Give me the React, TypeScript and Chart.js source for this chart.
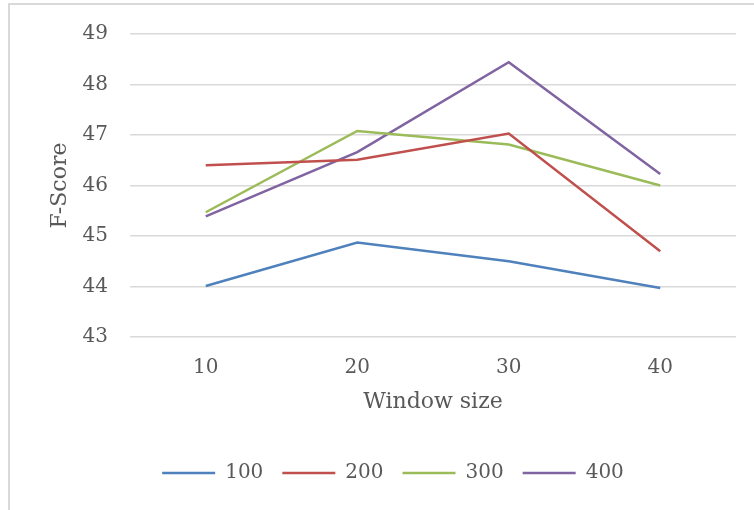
import { useEffect, useRef } from "react";
import { Chart, registerables } from "chart.js";

Chart.register(...registerables);

const categories = ["10", "20", "30", "40"];
const seriesNames = ["100", "200", "300", "400"];
const series100 = [44.01, 44.87, 44.5, 43.97];
const series200 = [46.4, 46.51, 47.03, 44.7];
const series300 = [45.47, 47.08, 46.81, 46.0];
const series400 = [45.39, 46.66, 48.44, 46.23];
const seriesColors = ["#4f81bd", "#c0504d", "#9bbb59", "#8064a2"];
const yMin = 43;
const yMax = 49;
const yStep = 1;
const xTitle = "Window size";
const yTitle = "F-Score";

const FONT = "'DejaVu Serif', serif";
const TEXT = "#595959";
const GRID = "#d9d9d9";

const legendShift = {
  id: "legendShift",
  afterLayout(chart: any) {
    const lg = chart.legend;
    if (lg) {
      lg.left += 25;
      lg.right += 25;
    }
  },
};

export default function App() {
  const ref = useRef<HTMLCanvasElement | null>(null);

  useEffect(() => {
    if (!ref.current) return;
    const all = [series100, series200, series300, series400];
    const chart = new Chart(ref.current, {
      type: "line",
      data: {
        labels: categories,
        datasets: all.map((d, i) => ({
          label: seriesNames[i],
          data: d,
          borderColor: seriesColors[i],
          backgroundColor: seriesColors[i],
          borderWidth: 2.5,
          pointRadius: 0,
          pointHoverRadius: 0,
          tension: 0,
          fill: false,
        })),
      },
      plugins: [legendShift],
      options: {
        responsive: false,
        animation: false,
        devicePixelRatio: 1,
        layout: { padding: { left: 0, right: 18, top: 33, bottom: 17 } },
        plugins: {
          tooltip: { enabled: false },
          legend: {
            position: "bottom",
            labels: {
              usePointStyle: true,
              pointStyle: "line",
              pointStyleWidth: 53,
              boxHeight: 20,
              padding: 19,
              color: TEXT,
              font: { family: FONT, size: 20 },
            },
          },
        },
        scales: {
          x: {
            type: "category",
            offset: true,
            grid: { display: false, drawTicks: false },
            border: { display: false },
            ticks: { color: TEXT, font: { family: FONT, size: 20 }, padding: 19 },
            title: {
              display: true,
              text: xTitle,
              color: TEXT,
              font: { family: FONT, size: 22 },
              padding: { top: 0, bottom: 28.8 },
            },
            afterFit: (s: any) => {
              s.height = 107;
            },
          },
          y: {
            min: yMin,
            max: yMax,
            ticks: {
              stepSize: yStep,
              color: TEXT,
              font: { family: FONT, size: 20 },
              padding: 22,
            },
            grid: { color: GRID, lineWidth: 1.5, drawTicks: false },
            border: { display: false },
            title: {
              display: true,
              text: yTitle,
              color: TEXT,
              font: { family: FONT, size: 22 },
              padding: { top: 47.5, bottom: 0 },
            },
            afterFit: (s: any) => {
              s.width = 130;
            },
          },
        },
      },
    });
    return () => chart.destroy();
  }, []);

  return (
    <div
      style={{
        position: "fixed",
        left: 0,
        top: 0,
        width: 754,
        height: 510,
        overflow: "hidden",
        background: "#ffffff",
      }}
    >
      <div
        style={{
          position: "absolute",
          left: 8,
          top: 3,
          width: 746,
          height: 507,
          borderLeft: `2px solid ${GRID}`,
          borderTop: `2px solid ${GRID}`,
          boxSizing: "border-box",
        }}
      />
      <canvas
        ref={ref}
        width={754}
        height={510}
        style={{ position: "absolute", left: 0, top: 0, width: 754, height: 510 }}
      />
    </div>
  );
}
